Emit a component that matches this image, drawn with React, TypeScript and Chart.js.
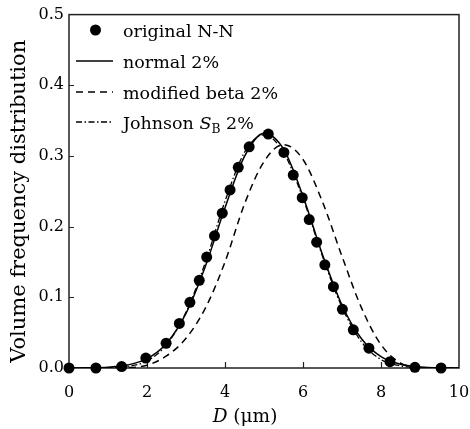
import React, { useEffect, useRef } from "react";
import { Chart, registerables } from "chart.js";

Chart.register(...registerables);

// ---- data ----
const xTickValues = [0, 2, 4, 6, 8, 10];
const yTickValues = [0, 0.1, 0.2, 0.3, 0.4, 0.5];

const pointD = [0, 0.69, 1.35, 1.97, 2.49, 2.83, 3.1, 3.34, 3.53, 3.73, 3.93, 4.13, 4.34, 4.62, 5.11, 5.51, 5.75, 5.98, 6.16, 6.35, 6.56, 6.78, 7.01, 7.29, 7.69, 8.23, 8.87, 9.54];
const pointV = [0, 0, 0.002, 0.014, 0.035, 0.063, 0.093, 0.124, 0.157, 0.187, 0.219, 0.252, 0.284, 0.313, 0.331, 0.305, 0.273, 0.241, 0.21, 0.178, 0.146, 0.115, 0.083, 0.054, 0.028, 0.009, 0.001, 0];

const curveD = [0, 0.5, 1, 1.5, 2, 2.5, 3, 3.5, 4, 4.5, 5, 5.5, 6, 6.5, 7, 7.5, 8, 8.5, 9, 9.5, 10];
const normalV = [0, 0.0002, 0.0011, 0.0042, 0.0132, 0.0348, 0.0773, 0.1444, 0.2267, 0.2993, 0.3323, 0.3099, 0.2431, 0.1603, 0.0888, 0.0414, 0.0162, 0.0053, 0.0015, 0.0003, 0.0001];
const betaV = [0, 0, 0, 0.0005, 0.004, 0.017, 0.042, 0.085, 0.15, 0.232, 0.292, 0.316, 0.295, 0.235, 0.158, 0.085, 0.033, 0.007, 0.001, 0, 0];
const johnsonV = [0, 0, 0.0003, 0.002, 0.01, 0.033, 0.079, 0.15, 0.236, 0.305, 0.33, 0.305, 0.24, 0.158, 0.086, 0.037, 0.012, 0.003, 0.0005, 0, 0];

const seriesNames = ["original N-N", "normal 2%", "modified beta 2%", "Johnson S_B 2%"];
const xTitle = ["D", " (\u03bcm)"];
const yTitle = "Volume frequency distribution";

const FONT = '"DejaVu Serif"';
const DASHED = [7, 5];
const DASHDOT = [6, 2.5, 1.5, 2.5];

const zip = (xs: number[], ys: number[]) => xs.map((x, i) => ({ x, y: ys[i] }));

const decorPlugin = {
  id: "decor",
  beforeDatasetsDraw(chart: any) {
    const { ctx, chartArea: a, scales } = chart;
    ctx.save();
    ctx.strokeStyle = "#222";
    ctx.lineWidth = 1.5;
    ctx.strokeRect(a.left, a.top, a.right - a.left, a.bottom - a.top);
    ctx.lineWidth = 1.2;
    ctx.beginPath();
    for (const t of xTickValues) {
      if (t === xTickValues[0] || t === xTickValues[xTickValues.length - 1]) continue;
      const px = Math.round(scales.x.getPixelForValue(t)) + 0.5;
      ctx.moveTo(px, a.bottom);
      ctx.lineTo(px, a.bottom - 6);
    }
    for (const t of yTickValues) {
      if (t === yTickValues[0] || t === yTickValues[yTickValues.length - 1]) continue;
      const py = Math.round(scales.y.getPixelForValue(t)) + 0.5;
      ctx.moveTo(a.left, py);
      ctx.lineTo(a.left + 5, py);
    }
    ctx.stroke();
    ctx.restore();
  },
  afterDraw(chart: any) {
    const { ctx, chartArea: a } = chart;
    ctx.save();
    ctx.fillStyle = "#000";
    ctx.strokeStyle = "#000";
    // legend
    const lx0 = 76, lx1 = 113, tx = 123;
    const base = [37, 68, 99, 129];
    const fs = 17.5;
    ctx.font = `${fs}px ${FONT}`;
    ctx.textBaseline = "alphabetic";
    ctx.textAlign = "left";
    ctx.beginPath();
    ctx.arc((lx0 + lx1) / 2 + 1, base[0] - 7, 5.5, 0, Math.PI * 2);
    ctx.fill();
    ctx.fillText(seriesNames[0], tx, base[0]);
    const dashes = [[], DASHED, DASHDOT];
    for (let i = 1; i < 4; i++) {
      ctx.beginPath();
      ctx.setLineDash(dashes[i - 1]);
      ctx.lineWidth = 1.3;
      ctx.moveTo(lx0, base[i] - 7);
      ctx.lineTo(lx1, base[i] - 7);
      ctx.stroke();
      ctx.setLineDash([]);
    }
    ctx.fillText(seriesNames[1], tx, base[1]);
    ctx.fillText(seriesNames[2], tx, base[2]);
    const [pre, rest] = seriesNames[3].split(" S_");
    const sub = rest.split(" ")[0];
    const post = rest.slice(sub.length);
    let x = tx;
    ctx.font = `${fs}px ${FONT}`;
    ctx.fillText(pre + " ", x, base[3]);
    x += ctx.measureText(pre + " ").width;
    ctx.font = `italic ${fs}px ${FONT}`;
    ctx.fillText("S", x, base[3]);
    x += ctx.measureText("S").width;
    ctx.font = `${fs * 0.7}px ${FONT}`;
    ctx.fillText(sub, x, base[3] + 4);
    x += ctx.measureText(sub).width;
    ctx.font = `${fs}px ${FONT}`;
    ctx.fillText(post, x, base[3]);

    // x title
    const xs = 18.5;
    ctx.font = `italic ${xs}px ${FONT}`;
    const w1 = ctx.measureText(xTitle[0]).width;
    ctx.font = `${xs}px ${FONT}`;
    const w2 = ctx.measureText(xTitle[1]).width;
    const cx = 245;
    const sx = cx - (w1 + w2) / 2;
    ctx.font = `italic ${xs}px ${FONT}`;
    ctx.fillText(xTitle[0], sx, 422);
    ctx.font = `${xs}px ${FONT}`;
    ctx.fillText(xTitle[1], sx + w1, 422);

    // y title
    ctx.translate(25, (a.top + a.bottom) / 2 + 10);
    ctx.rotate(-Math.PI / 2);
    ctx.textAlign = "center";
    ctx.font = `21px ${FONT}`;
    ctx.fillText(yTitle, 0, 0);
    ctx.restore();
  },
};

export default function App() {
  const ref = useRef<HTMLCanvasElement | null>(null);
  useEffect(() => {
    if (!ref.current) return;
    const chart = new Chart(ref.current, {
      type: "scatter",
      data: {
        datasets: [
          {
            label: seriesNames[1],
            data: zip(curveD, normalV),
            showLine: true,
            borderColor: "#000",
            borderWidth: 1.5,
            pointRadius: 0,
            cubicInterpolationMode: "monotone",
          } as any,
          {
            label: seriesNames[2],
            data: zip(curveD, betaV),
            showLine: true,
            borderColor: "#000",
            borderWidth: 1.5,
            borderDash: DASHED,
            pointRadius: 0,
            cubicInterpolationMode: "monotone",
          } as any,
          {
            label: seriesNames[3],
            data: zip(curveD, johnsonV),
            showLine: true,
            borderColor: "#000",
            borderWidth: 1.3,
            borderDash: DASHDOT,
            pointRadius: 0,
            cubicInterpolationMode: "monotone",
          } as any,
          {
            label: seriesNames[0],
            data: zip(pointD, pointV),
            showLine: false,
            pointRadius: 5.5,
            pointBackgroundColor: "#000",
            pointBorderColor: "#000",
            pointBorderWidth: 0,
            clip: false,
          } as any,
        ],
      },
      options: {
        animation: false,
        responsive: false,
        layout: { padding: { top: 13, right: 0, left: 0, bottom: 0 } },
        plugins: { legend: { display: false }, tooltip: { enabled: false } },
        scales: {
          x: {
            type: "linear",
            min: 0,
            max: 10,
            afterBuildTicks: (s: any) => {
              s.ticks = xTickValues.map((v) => ({ value: v }));
            },
            afterFit: (s: any) => {
              s.height = 61;
              s.paddingRight = 11;
            },
            ticks: {
              color: "#000",
              font: { family: FONT, size: 16 },
              padding: 15,
              maxRotation: 0,
              callback: (v: any) => String(v),
            },
            grid: { display: false, drawTicks: false },
            border: { display: false },
          },
          y: {
            type: "linear",
            min: 0,
            max: 0.5,
            afterBuildTicks: (s: any) => {
              s.ticks = yTickValues.map((v) => ({ value: v }));
            },
            afterFit: (s: any) => {
              s.width = 69;
            },
            ticks: {
              color: "#000",
              font: { family: FONT, size: 16 },
              padding: 5,
              callback: (v: any) => Number(v).toFixed(1),
            },
            grid: { display: false, drawTicks: false },
            border: { display: false },
          },
        },
      },
      plugins: [decorPlugin],
    } as any);
    return () => chart.destroy();
  }, []);
  return (
    <div style={{ position: "fixed", left: 0, top: 0, width: 470, height: 429, background: "#fff" }}>
      <canvas ref={ref} width={470} height={429} style={{ display: "block" }} />
    </div>
  );
}
